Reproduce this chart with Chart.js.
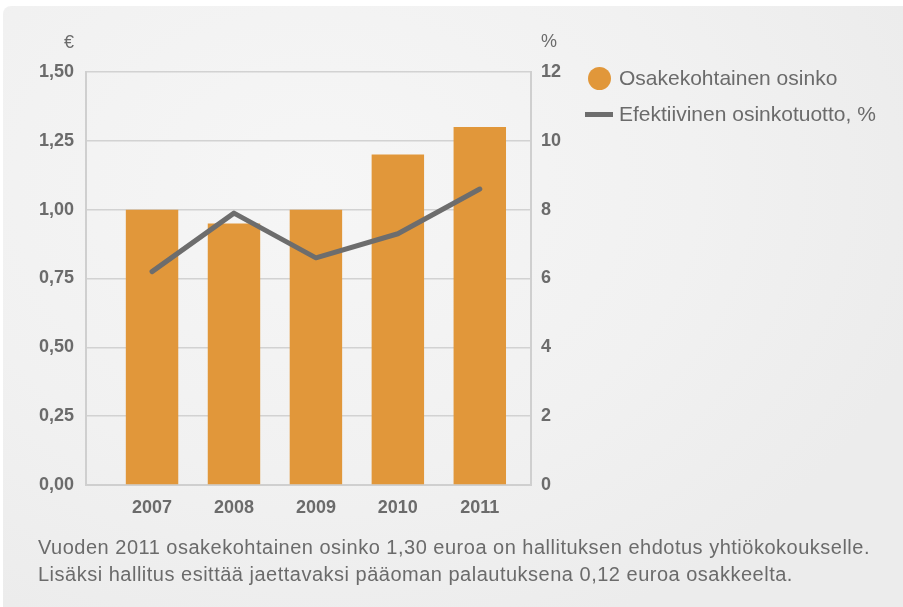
<!DOCTYPE html>
<html lang="fi">
<head>
<meta charset="utf-8">
<script src="https://cdn.jsdelivr.net/npm/chart.js@4"></script>
<style>
  html, body { margin: 0; padding: 0; background: #fff; }
  body { width: 903px; height: 607px; position: relative; overflow: hidden;
         font-family: "Liberation Sans", Arial, Helvetica, sans-serif; color: #6b6b6b; }
  #bg { position: absolute; left: 3px; top: 6px; right: 0; bottom: 0;
        border-top-left-radius: 8px;
        background: radial-gradient(ellipse 70% 80% at 35% 30%, #f6f6f6 0%, #f1f1f1 60%, #ececec 100%); }
  #wrap { position: absolute; left: 0; top: 0; width: 903px; height: 607px; }
  .unit { position: absolute; font-size: 18px; line-height: 18px; }
  #legend { position: absolute; left: 585px; top: 64px; font-size: 21px; }
  #legend div { height: 36px; line-height: 28px; position: relative; padding-left: 34px; }
  .dot { position: absolute; left: 3px; top: 3px; width: 23px; height: 23px; border-radius: 50%; background: #e1973a; }
  .dash { position: absolute; left: 0; top: 12px; width: 28px; height: 5px; background: #6d6d6d; }
  #note { position: absolute; left: 38px; top: 534px; font-size: 20px; line-height: 27px; letter-spacing: 0.5px; }
</style>
</head>
<body>
<div id="bg"></div>
<div id="wrap"><canvas id="myChart" width="903" height="607"></canvas></div>
<div class="unit" style="left:64px; top:33px;">€</div>
<div class="unit" style="left:541px; top:32px;">%</div>
<div id="legend">
  <div><span class="dot"></span>Osakekohtainen osinko</div>
  <div><span class="dash"></span>Efektiivinen osinkotuotto, %</div>
</div>
<div id="note">Vuoden 2011 osakekohtainen osinko 1,30 euroa on hallituksen ehdotus yhtiökokoukselle.<br>Lisäksi hallitus esittää jaettavaksi pääoman palautuksena 0,12 euroa osakkeelta.</div>
<script>
const years = ['2007', '2008', '2009', '2010', '2011'];
const dividend = [1.00, 0.95, 1.00, 1.20, 1.30];     // € / osake
const yieldPct = [6.2, 7.9, 6.6, 7.3, 8.6];           // %
const leftTicks = [0, 0.25, 0.5, 0.75, 1.0, 1.25, 1.5];
const rightTicks = [0, 2, 4, 6, 8, 10, 12];

const tickFont = { family: '"Liberation Sans", Arial, Helvetica, sans-serif', size: 18, weight: 'bold' };
const grey = '#6b6b6b';

document.addEventListener("DOMContentLoaded", function () {
    const ctx = document.getElementById('myChart').getContext('2d');
    new Chart(ctx, {
        type: 'bar',
        data: {
            datasets: [
                {
                    type: 'line',
                    label: 'Efektiivinen osinkotuotto, %',
                    data: yieldPct.map((v, i) => ({ x: i, y: v })),
                    yAxisID: 'y1',
                    borderColor: '#6d6d6d',
                    borderWidth: 5,
                    borderCapStyle: 'round',
                    borderJoinStyle: 'round',
                    pointRadius: 0,
                    tension: 0,
                    order: 0
                },
                {
                    label: 'Osakekohtainen osinko',
                    data: dividend.map((v, i) => ({ x: i, y: v })),
                    yAxisID: 'y',
                    backgroundColor: '#e1973a',
                    barPercentage: 0.64,
                    categoryPercentage: 1,
                    order: 1
                }
            ]
        },
        options: {
            responsive: false,
            animation: false,
            layout: { padding: { top: 72, left: 0, right: 0, bottom: 0 } },
            plugins: { legend: { display: false }, tooltip: { enabled: false } },
            scales: {
                x: {
                    type: 'linear',
                    offset: false,
                    min: -0.806,
                    max: 4.625,
                    afterBuildTicks: s => { s.ticks = years.map((_, i) => ({ value: i })); },
                    afterFit: s => { s.height = 122; },
                    grid: { display: false },
                    border: { display: true, color: '#cfcfcf', width: 2 },
                    ticks: {
                        padding: 4,
                        color: grey,
                        font: tickFont,
                        callback: v => years[v] ?? ''
                    }
                },
                y: {
                    position: 'left',
                    min: 0,
                    max: 1.5,
                    afterBuildTicks: s => { s.ticks = leftTicks.map(v => ({ value: v })); },
                    afterFit: s => { s.width = 86; },
                    grid: { color: '#d2d2d2', lineWidth: 1.5, drawTicks: false },
                    border: { display: true, color: '#cfcfcf', width: 2 },
                    ticks: {
                        padding: 12,
                        color: grey,
                        font: tickFont,
                        callback: v => v.toFixed(2).replace('.', ',')
                    }
                },
                y1: {
                    position: 'right',
                    min: 0,
                    max: 12,
                    afterBuildTicks: s => { s.ticks = rightTicks.map(v => ({ value: v })); },
                    afterFit: s => { s.width = 372; },
                    grid: { display: true, drawOnChartArea: false, drawTicks: false },
                    border: { display: true, color: '#cfcfcf', width: 2 },
                    ticks: {
                        padding: 10,
                        color: grey,
                        font: tickFont
                    }
                }
            }
        }
    });
});
</script>
</body>
</html>
